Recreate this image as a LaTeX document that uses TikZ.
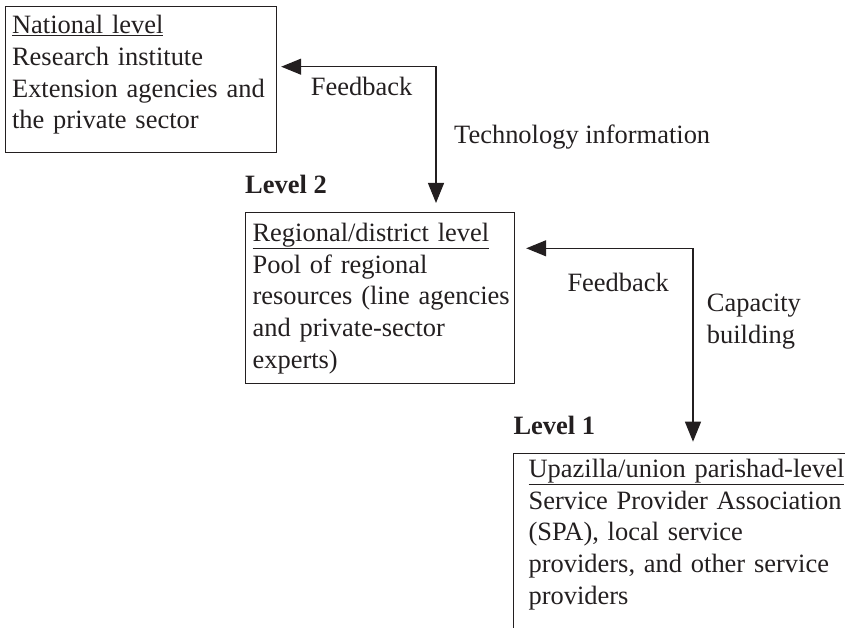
\documentclass[tikz,border=0pt]{standalone}
\usepackage{fontspec}
\setmainfont{Liberation Serif}
\usetikzlibrary{arrows.meta}
\definecolor{ink}{RGB}{35,31,32}

\begin{document}
\begin{tikzpicture}[
    x=1pt, y=-1pt,
    every node/.style={text=ink},
    txt/.style={font=\fontsize{26.45}{31.7}\selectfont, inner sep=0pt, anchor=base west},
    lvl/.style={txt, font=\fontsize{26.45}{31.7}\selectfont\bfseries},
    box/.style={draw=ink, line width=1.2pt, align=left, anchor=north west, inner ysep=0pt, inner xsep=7pt,
        font=\fontsize{26.45}{31.7}\selectfont},
    link/.style={draw=ink, line width=1.2pt, {Triangle[length=20pt,width=16pt]}-{Triangle[length=20pt,width=16pt]}}
]
\useasboundingbox (0,0) rectangle (845,628);
\clip (0,0) rectangle (845,628);
\node[box, text width=257pt, text height=27.3pt, text depth=118.7pt] (nat) at (4.5,6) {\underline{National level}\\ Research institute\\ \mbox{Extension agencies and}\\ the private sector};
\node[box, text width=255pt, text height=28.7pt, text depth=142.3pt] (reg) at (245,212) {\underline{Regional/district level}\\ Pool of regional\\ \mbox{resources (line agencies}\\ and private-sector\\ experts)};
\node[box, inner xsep=15pt, text width=330pt, text height=23.7pt, text depth=220pt] (upa) at (513,453) {\underline{Upazilla/union parishad-level}\\ Service Provider Association\\ (SPA), local service\\ \mbox{providers, and other service}\\ providers};
\node[lvl] (lev2) at (245,193.5) {Level 2};
\node[lvl] (lev1) at (513.3,434) {Level 1};
\node[txt] (fb1) at (310.7,96) {Feedback};
\node[txt] (tech) at (454,144) {Technology information};
\node[txt] (fb2) at (567.3,291.7) {Feedback};
\node[txt, align=left] (cap) at (706.7,343.5) {Capacity\\ building};
\coordinate (c1) at (436,66.7);
\coordinate (c2) at (693,248.3);
\draw[link] ([xshift=4.5pt]nat.east |- c1) -- (c1) -- ([yshift=9pt]reg.north -| c1);
\draw[link] ([xshift=11pt]reg.east |- c2) -- (c2) -- ([yshift=11.3pt]upa.north -| c2);
\end{tikzpicture}
\end{document}
